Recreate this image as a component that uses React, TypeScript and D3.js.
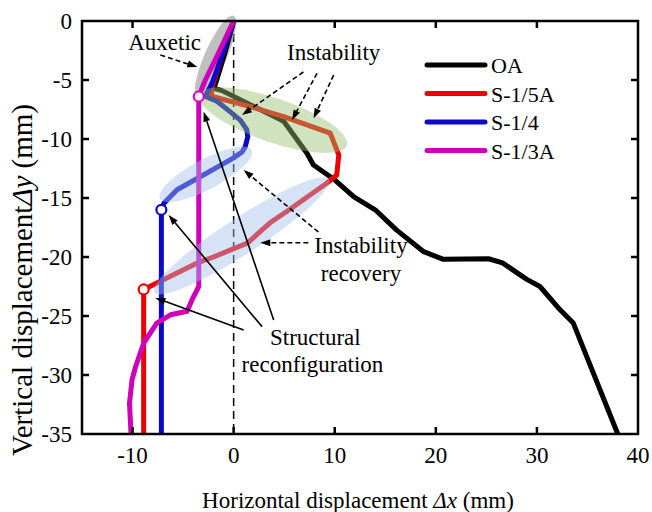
import React from "react";
import * as d3 from "d3";

type P = [number, number];

const seriesNames = ["OA", "S-1/5A", "S-1/4", "S-1/3A"];
const seriesColors = ["#000000", "#ee0000", "#0a0ac8", "#d000b8"];

const oaData: P[] = [
  [0, 0], [-0.8, -2.5], [-1.6, -4.8], [-1.95, -5.7], [-1.15, -5.9], [4.95, -8.5],
  [7.25, -11.2], [7.9, -12.2], [10.05, -13.5], [11.9, -14.9], [14, -16],
  [16.1, -17.7], [18.8, -19.55], [20.75, -20.2], [25.2, -20.15], [26.6, -20.5],
  [29, -21.9], [30.3, -22.5], [32.1, -24.3], [33.6, -25.6], [38, -35],
];
const s15Data: P[] = [
  [0, 0], [-1.2, -3], [-2.1, -5.5], [-2.2, -6.2], [-2.1, -6.4], [1.65, -7.26],
  [4.95, -8.1], [9.55, -9.5], [10.4, -11.35], [10.2, -13.05], [9.2, -13.75],
  [5.5, -16.0], [3.6, -17.1], [1.4, -18.8], [-2, -20], [-3.6, -20.5],
  [-6.9, -21.9], [-8.9, -22.75], [-8.9, -35],
];
const s14Data: P[] = [
  [0, 0], [-1.1, -2.8], [-2.1, -5.2], [-2.8, -6.4], [-1.65, -6.8], [-0.33, -7.7],
  [0.66, -8.4], [1.3, -9.2], [1.4, -9.8], [1.15, -10.65], [0.83, -11.1],
  [0, -11.6], [-3.3, -13.2], [-5.6, -14.3], [-6.9, -15.45], [-7.15, -16],
  [-7.15, -35],
];
const s13Data: P[] = [
  [0, 0], [-1.65, -3.0], [-2.8, -5.0], [-3.45, -6.4], [-3.45, -22.5], [-4.1, -23.6],
  [-4.6, -24.6], [-6.25, -24.9], [-7.6, -25.6], [-8.9, -27.3], [-9.7, -29.3],
  [-10.05, -30.4], [-10.3, -32.4], [-10.15, -35],
];
const allSeries = [oaData, s15Data, s14Data, s13Data];

// reconfiguration points (open circles)
const markerPoints: P[] = [[-8.9, -22.75], [-7.15, -16], [-3.45, -6.4]];
const markerColors = ["#ee0000", "#0a0ac8", "#e000c8"];

const xTicks = [-10, 0, 10, 20, 30, 40];
const yTicks = [0, -5, -10, -15, -20, -25, -30, -35];

const W = 652, H = 512;
const L = 82, R = 638, T = 21, B = 434;

export default function App() {
  const x = d3.scaleLinear().domain([-15, 40]).range([L, R]);
  const y = d3.scaleLinear().domain([-35, 0]).range([B, T]);
  const line = d3.line<P>().x((d) => x(d[0])).y((d) => y(d[1]));
  const font = "'Liberation Serif', 'Times New Roman', serif";

  // ellipses: center in data coords, radii in px, rotation deg
  const grayEllipse = { cx: -1.8, cy: -3.05, rx: 45, ry: 11, a: -66.4, fill: "rgb(150,150,150)", o: 0.6 };
  const ellipses = [
    { cx: 3.9, cy: -8.4, rx: 78, ry: 22, a: 19, fill: "rgb(150,190,110)", o: 0.45 },
    { cx: -2.75, cy: -13.0, rx: 52, ry: 15, a: -28, fill: "rgb(165,190,232)", o: 0.45 },
    { cx: 0.8, cy: -18.2, rx: 104, ry: 18, a: -33, fill: "rgb(165,190,232)", o: 0.45 },
  ];

  const dashedArrows: [P, P][] = [
    [[-7.25, -2.88], [-3.59, -3.9]],
    [[6.9, -4.32], [0.83, -7.97]],
    [[8.25, -4.43], [5.78, -8.39]],
    [[9.89, -4.58], [7.91, -8.25]],
    [[8.38, -17.88], [0.99, -12.63]],
    [[7.39, -18.79], [2.64, -18.79]],
  ];
  const solidArrows: [P, P][] = [
    [[0.99, -26.19], [-7.74, -23.47]],
    [[2.81, -25.9], [-6.43, -16.44]],
    [[3.96, -25.34], [-2.97, -7.69]],
  ];

  const arrow = (a: P, b: P, dashed: boolean, key: string) => {
    const x1 = x(a[0]), y1 = y(a[1]), x2 = x(b[0]), y2 = y(b[1]);
    const ang = Math.atan2(y2 - y1, x2 - x1);
    const hl = 10, hw = 3.5;
    const bx = x2 - hl * Math.cos(ang), by = y2 - hl * Math.sin(ang);
    const px = -Math.sin(ang) * hw, py = Math.cos(ang) * hw;
    return (
      <g key={key}>
        <line x1={x1} y1={y1} x2={bx} y2={by} stroke="#000" strokeWidth={1.6}
          strokeDasharray={dashed ? "5,3" : undefined} />
        <path d={`M${x2},${y2}L${bx + px},${by + py}L${bx - px},${by - py}Z`} fill="#000" />
      </g>
    );
  };

  const ell = (e: any, i: number | string) => (
    <ellipse key={i} cx={0} cy={0} rx={e.rx} ry={e.ry} fill={e.fill} fillOpacity={e.o}
      transform={`translate(${x(e.cx)},${y(e.cy)}) rotate(${e.a})`} />
  );

  return (
    <svg width={W} height={H} style={{ position: "absolute", left: 0, top: 0, background: "#fff" }}
      fontFamily={font}>
      <rect x={0} y={0} width={W} height={H} fill="#fff" />
      {/* dashed zero line */}
      <line x1={x(0)} x2={x(0)} y1={T} y2={B} stroke="#000" strokeWidth={1.5} strokeDasharray="8,5" />
      {ell(grayEllipse, "g")}
      {/* series */}
      {allSeries.map((s, i) => (
        <path key={i} d={line(s) || ""} fill="none" stroke={seriesColors[i]} strokeWidth={5}
          strokeLinejoin="round" />
      ))}
      {/* highlight ellipses */}
      {ellipses.map((e, i) => ell(e, i))}
      {markerPoints.map((p, i) => (
        <circle key={i} cx={x(p[0])} cy={y(p[1])} r={5} fill="#fff" stroke={markerColors[i]} strokeWidth={2.2} />
      ))}
      {/* frame */}
      <rect x={L} y={T} width={R - L} height={B - T} fill="none" stroke="#000" strokeWidth={2.5} />
      {xTicks.filter((t) => t > -15 && t < 40).map((t) => (
        <g key={"xt" + t}>
          <line x1={x(t)} x2={x(t)} y1={B} y2={B - 7} stroke="#000" strokeWidth={2.5} />
          {t !== 0 && <line x1={x(t)} x2={x(t)} y1={T} y2={T + 7} stroke="#000" strokeWidth={2.5} />}
        </g>
      ))}
      {yTicks.filter((t) => t > -35 && t < 0).map((t) => (
        <g key={"yt" + t}>
          <line x1={L} x2={L + 7} y1={y(t)} y2={y(t)} stroke="#000" strokeWidth={2.5} />
          <line x1={R} x2={R - 7} y1={y(t)} y2={y(t)} stroke="#000" strokeWidth={2.5} />
        </g>
      ))}
      {xTicks.map((t) => (
        <text key={"xl" + t} x={x(t)} y={463} textAnchor="middle" fontSize={23}>{t}</text>
      ))}
      {yTicks.map((t) => (
        <text key={"yl" + t} x={72} y={y(t) + 8} textAnchor="end" fontSize={23}>{t}</text>
      ))}
      <text x={358} y={508} textAnchor="middle" fontSize={23}>
        Horizontal displacement <tspan fontStyle="italic">Δx</tspan> (mm)
      </text>
      <text transform={`translate(32,280) rotate(-90)`} textAnchor="middle" fontSize={29}>
        Vertical displacement<tspan fontStyle="italic">Δy</tspan> (mm)
      </text>
      {/* legend */}
      {seriesNames.map((n, i) => (
        <g key={n} transform={`translate(0,${65 + i * 28.5})`}>
          <line x1={427} x2={485} y1={0} y2={0} stroke={seriesColors[i]} strokeWidth={5} strokeLinecap="round" />
          <text x={491} y={8} fontSize={22}>{n}</text>
        </g>
      ))}
      {/* annotations */}
      {dashedArrows.map((a, i) => arrow(a[0], a[1], true, "d" + i))}
      {solidArrows.map((a, i) => arrow(a[0], a[1], false, "s" + i))}
      <text x={x(-10.43)} y={y(-2.46)} fontSize={23}>Auxetic</text>
      <text x={x(9.9)} y={y(-3.3)} fontSize={23} textAnchor="middle">Instability</text>
      <text x={x(12.6)} y={y(-19.66)} fontSize={23} textAnchor="middle">Instability</text>
      <text x={x(12.6)} y={y(-22.03)} fontSize={23} textAnchor="middle">recovery</text>
      <text x={x(8.08)} y={y(-27.46)} fontSize={23} textAnchor="middle">Structural</text>
      <text x={x(7.8)} y={y(-29.75)} fontSize={23} textAnchor="middle">reconfiguration</text>
    </svg>
  );
}
